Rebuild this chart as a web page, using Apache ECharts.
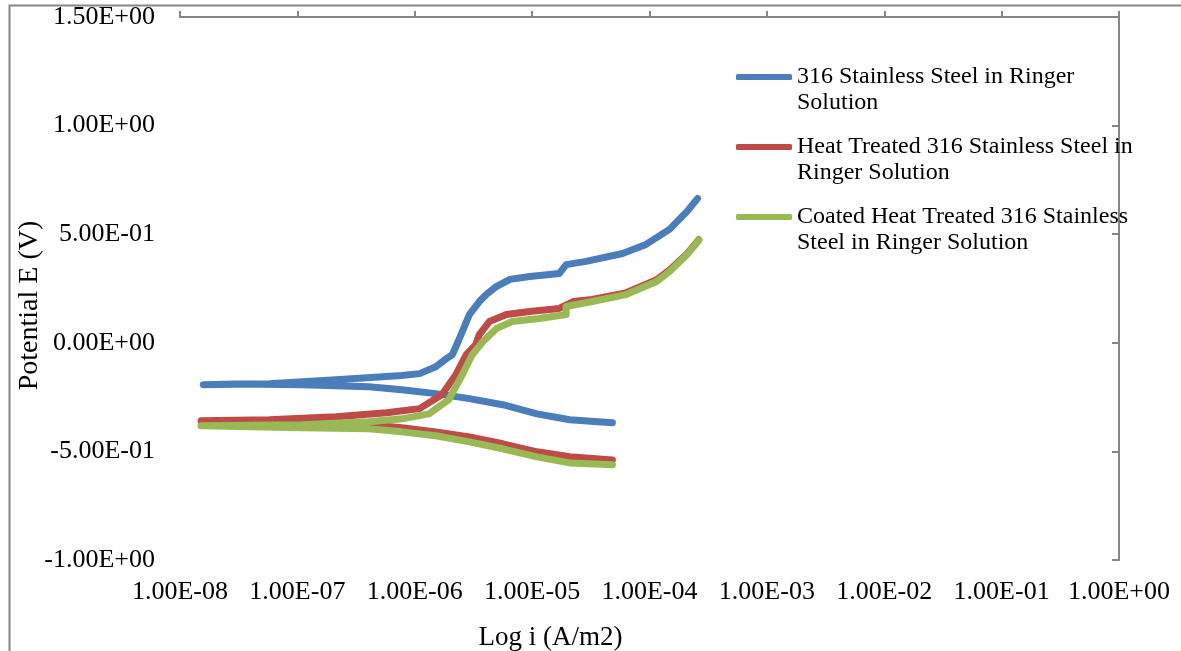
<!DOCTYPE html>
<html>
<head>
<meta charset="utf-8">
<script src="https://cdn.jsdelivr.net/npm/echarts@6/dist/echarts.min.js"></script>
<style>
  html, body { margin: 0; padding: 0; background: #fff; }
  #chart { width: 1181px; height: 651px; }
</style>
</head>
<body>
<div id="chart"></div>
<script>
/** series names as shown in the legend */
const seriesNames = [
  "316 Stainless Steel in Ringer Solution",
  "Heat Treated 316 Stainless Steel in Ringer Solution",
  "Coated Heat Treated 316 Stainless Steel in Ringer Solution",
];

/** legend text, wrapped as in the picture (leading blank line keeps the icon on the first line) */
const legendLines = {
  [seriesNames[0]]: " \n316 Stainless Steel in Ringer\nSolution",
  [seriesNames[1]]: " \nHeat Treated 316 Stainless Steel in\nRinger Solution",
  [seriesNames[2]]: " \nCoated Heat Treated 316 Stainless\nSteel in Ringer Solution",
};

const colors = ["#4A7EBB", "#BE4B48", "#98B954"];

/** [current density (A/m2), potential (V)] — cathodic branch then anodic branch */
const plain316 = [
  [4.83e-5, -0.368], [2.09e-5, -0.354], [1.10e-5, -0.327], [5.62e-6, -0.285],
  [2.92e-6, -0.257], [1.51e-6, -0.234], [7.76e-7, -0.216], [4.07e-7, -0.202],
  [1.10e-7, -0.193], [3.02e-8, -0.190], [1.58e-8, -0.193],
  [5.75e-8, -0.188], [2.14e-7, -0.170], [7.76e-7, -0.151], [1.10e-6, -0.142],
  [1.51e-6, -0.110], [1.86e-6, -0.073], [2.09e-6, -0.055], [2.40e-6, 0.019],
  [2.92e-6, 0.130], [3.55e-6, 0.190], [4.07e-6, 0.222], [4.95e-6, 0.259],
  [6.46e-6, 0.292], [9.55e-6, 0.305], [1.70e-5, 0.319], [1.95e-5, 0.360],
  [2.88e-5, 0.375], [5.89e-5, 0.411], [9.33e-5, 0.453], [1.48e-4, 0.522],
  [2.09e-4, 0.605], [2.57e-4, 0.665],
];

const heatTreated = [
  [4.83e-5, -0.539], [2.09e-5, -0.525], [1.10e-5, -0.502], [5.62e-6, -0.465],
  [2.92e-6, -0.433], [1.51e-6, -0.410], [7.76e-7, -0.391], [4.07e-7, -0.377],
  [1.10e-7, -0.373], [1.51e-8, -0.359],
  [5.75e-8, -0.354], [2.14e-7, -0.340], [5.75e-7, -0.322], [1.10e-6, -0.303],
  [1.70e-6, -0.239], [2.24e-6, -0.147], [2.75e-6, -0.055], [3.31e-6, -0.008],
  [3.55e-6, 0.038], [4.32e-6, 0.098], [6.03e-6, 0.130], [9.55e-6, 0.144],
  [1.70e-5, 0.158], [2.24e-5, 0.190], [3.24e-5, 0.200], [6.31e-5, 0.230],
  [1.15e-4, 0.290], [1.48e-4, 0.335], [2.09e-4, 0.410], [2.63e-4, 0.475],
];

const coated = [
  [4.83e-5, -0.562], [2.09e-5, -0.553], [1.10e-5, -0.525], [5.62e-6, -0.488],
  [2.92e-6, -0.456], [1.51e-6, -0.428], [7.76e-7, -0.410], [4.07e-7, -0.396],
  [1.10e-7, -0.391], [1.51e-8, -0.382],
  [1.10e-7, -0.377], [4.07e-7, -0.363], [7.76e-7, -0.350], [1.32e-6, -0.327],
  [1.95e-6, -0.262], [2.54e-6, -0.147], [3.09e-6, -0.055], [3.80e-6, 0.005],
  [4.95e-6, 0.065], [6.76e-6, 0.098], [1.15e-5, 0.112], [1.95e-5, 0.130],
  [1.95e-5, 0.167], [3.24e-5, 0.190], [6.31e-5, 0.222], [1.15e-4, 0.282],
  [1.48e-4, 0.328], [2.09e-4, 0.407], [2.63e-4, 0.471],
];

const seriesData = [plain316, heatTreated, coated];

/** axis ranges */
const xRange = [1e-8, 1];
const yRange = [-1, 1.5];
const yStep = 0.5;

const font = "'Liberation Serif', 'Times New Roman', serif";
const axisGray = "#868686";

/** excel style scientific label, e.g. 1.00E-08 */
const sci = (v) => {
  const [m, e] = Number(v).toExponential(2).split("e");
  const n = parseInt(e, 10);
  return m + "E" + (n < 0 ? "-" : "+") + String(Math.abs(n)).padStart(2, "0");
};

const chart = echarts.init(document.getElementById("chart"), null, { renderer: "canvas" });

const option = {
  animation: false,
  backgroundColor: "#fff",
  textStyle: { fontFamily: font },

  graphic: [
    {
      type: "rect",
      left: 7,
      top: 3,
      shape: { width: 1200, height: 700 },
      style: { fill: "none", stroke: axisGray, lineWidth: 2 },
      silent: true,
    },
  ],

  grid: { left: 180, right: 62, top: 17, bottom: 91, outerBoundsMode: "none" },

  legend: {
    orient: "vertical",
    left: 736,
    top: 38,
    padding: 0,
    itemGap: -8,
    itemWidth: 56,
    itemHeight: 6,
    icon: "roundRect",
    data: seriesNames,
    formatter: (name) => legendLines[name],
    textStyle: {
      color: "#000",
      fontFamily: font,
      fontSize: 24,
      lineHeight: 26,
    },
  },

  xAxis: [
    {
      type: "log",
      logBase: 10,
      min: xRange[0],
      max: xRange[1],
      position: "bottom",
      axisLine: { show: false, onZero: false },
      axisTick: { show: false },
      splitLine: { show: false },
      minorTick: { show: false },
      axisLabel: {
        color: "#000",
        fontFamily: font,
        fontSize: 26,
        margin: 19,
        formatter: sci,
      },
      name: "Log i (A/m2)",
      nameLocation: "middle",
      nameGap: 64,
      nameMoveOverlap: false,
      nameTextStyle: {
        color: "#000",
        fontFamily: font,
        fontSize: 27,
        padding: [0, 198, 0, 0],
      },
    },
    {
      type: "log",
      logBase: 10,
      min: xRange[0],
      max: xRange[1],
      position: "top",
      axisLine: { show: true, onZero: false, lineStyle: { color: axisGray, width: 2 } },
      axisTick: { show: true, length: 6, lineStyle: { color: axisGray, width: 2 } },
      axisLabel: { show: false },
      splitLine: { show: false },
    },
  ],

  yAxis: [
    {
      type: "value",
      min: yRange[0],
      max: yRange[1],
      interval: yStep,
      position: "left",
      axisLine: { show: false, onZero: false },
      axisTick: { show: false },
      splitLine: { show: false },
      axisLabel: {
        color: "#000",
        fontFamily: font,
        fontSize: 26,
        margin: 25,
        formatter: sci,
      },
      name: "Potential E (V)",
      nameLocation: "middle",
      nameGap: 136,
      nameMoveOverlap: false,
      nameTextStyle: {
        color: "#000",
        fontFamily: font,
        fontSize: 28,
        padding: [0, 34, 0, 0],
      },
    },
    {
      type: "value",
      min: yRange[0],
      max: yRange[1],
      interval: yStep,
      position: "right",
      axisLine: { show: true, onZero: false, lineStyle: { color: axisGray, width: 2 } },
      axisTick: { show: true, inside: true, length: 7, lineStyle: { color: axisGray, width: 2 } },
      axisLabel: { show: false },
      splitLine: { show: false },
    },
  ],

  series: seriesNames.map((name, i) => ({
    name,
    type: "line",
    xAxisIndex: 0,
    yAxisIndex: 0,
    data: seriesData[i],
    showSymbol: false,
    symbol: "none",
    color: colors[i],
    lineStyle: { color: colors[i], width: 7, cap: "round", join: "round" },
  })),
};

chart.setOption(option);
</script>
</body>
</html>
